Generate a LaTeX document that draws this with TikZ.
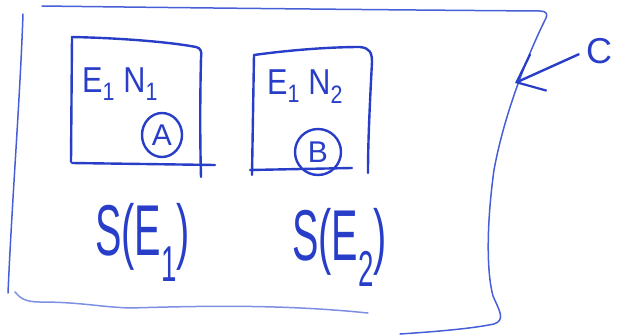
\documentclass[tikz,border=0pt]{standalone}
\usepackage{fontspec}
\setmainfont{Liberation Sans}
\usetikzlibrary{arrows.meta,shapes.geometric}
\definecolor{ink}{RGB}{40,62,200}
\definecolor{inklight}{RGB}{70,95,215}
\tikzset{
  pen/.style={draw=ink, line width=2.4pt, line cap=round, line join=round},
  thinpen/.style={draw=inklight, line width=1.5pt, line cap=round, line join=round},
  hand/.style={text=ink, inner sep=0pt, font=\fontsize{36}{40}\selectfont},
  big/.style={text=ink, inner sep=0pt, font=\fontsize{72}{76}\selectfont},
  ring/.style={ellipse, inner sep=0pt, text=ink, font=\fontsize{30}{32}\selectfont},
}
\begin{document}
\begin{tikzpicture}[x=1pt,y=-1pt]
\useasboundingbox (0,0) rectangle (624,335);
% outer region C
\draw[thinpen] (23,14) .. controls (20,100) and (12,200) .. (8,293);
\draw[thinpen] (42,6) .. controls (200,8) and (400,10) .. (540,11)
  .. controls (546,11) and (548,14) .. (546,18)
  .. controls (530,50) and (505,110) .. (494,170)
  .. controls (487,220) and (486,270) .. (493,296)
  .. controls (499,310) and (506,320) .. (494,324)
  .. controls (470,329) and (430,332) .. (400,334);
\draw[thinpen, draw opacity=0.7] (15,292) .. controls (20,298) and (25,302) .. (40,302)
  .. controls (80,302) and (100,307) .. (130,308)
  .. controls (200,306) and (280,304) .. (368,313);
% box 1
\draw[pen] (71,162) -- (72,37)
  .. controls (120,38) and (170,42) .. (196,47)
  .. controls (201,48) and (202,52) .. (201,58)
  .. controls (200,100) and (200,140) .. (201,177);
\draw[pen] (72,163) -- (215,165);
% box 2
\draw[pen] (252,175) -- (254,55)
  .. controls (290,50) and (330,47) .. (360,47)
  .. controls (370,48) and (372,53) .. (372,62)
  .. controls (370,100) and (368,140) .. (368,173);
\draw[pen] (250,170) -- (352,168);
% labels in boxes
\node[hand, anchor=base west] (t1) at (82,92) {\scalebox{0.85}[1]{E$_{\mathrm{1}}$ N$_{\mathrm{1}}$}};
\node[hand, anchor=base west] (t2) at (267,94) {\scalebox{0.85}[1]{E$_{\mathrm{1}}$ N$_{\mathrm{2}}$}};
\node[ring, minimum width=40pt, minimum height=44pt] (A) at (162,135) {A};
\node[ring, minimum width=46pt, minimum height=46pt] (B) at (318,152) {B};
\draw[pen] (A.center) ellipse [x radius=20pt, y radius=22pt];
\draw[pen] (B.center) ellipse [x radius=23pt, y radius=23pt];
% set labels
\node[big, anchor=base west] (s1) at (95,255) {\scalebox{0.55}[1]{S(E$_{\mathrm{1}}$)}};
\node[big, anchor=base west] (s2) at (292,260) {\scalebox{0.55}[1]{S(E$_{\mathrm{2}}$)}};
% C label and arrow
\node[hand, anchor=west] (C) at (586,51) {C};
\coordinate (Ctip) at (515,83);
\draw[pen, shorten <=8pt, -{Straight Barb[length=24pt,width=40pt,line width=2.2pt]}] (C.west) -- (Ctip);
\end{tikzpicture}
\end{document}
